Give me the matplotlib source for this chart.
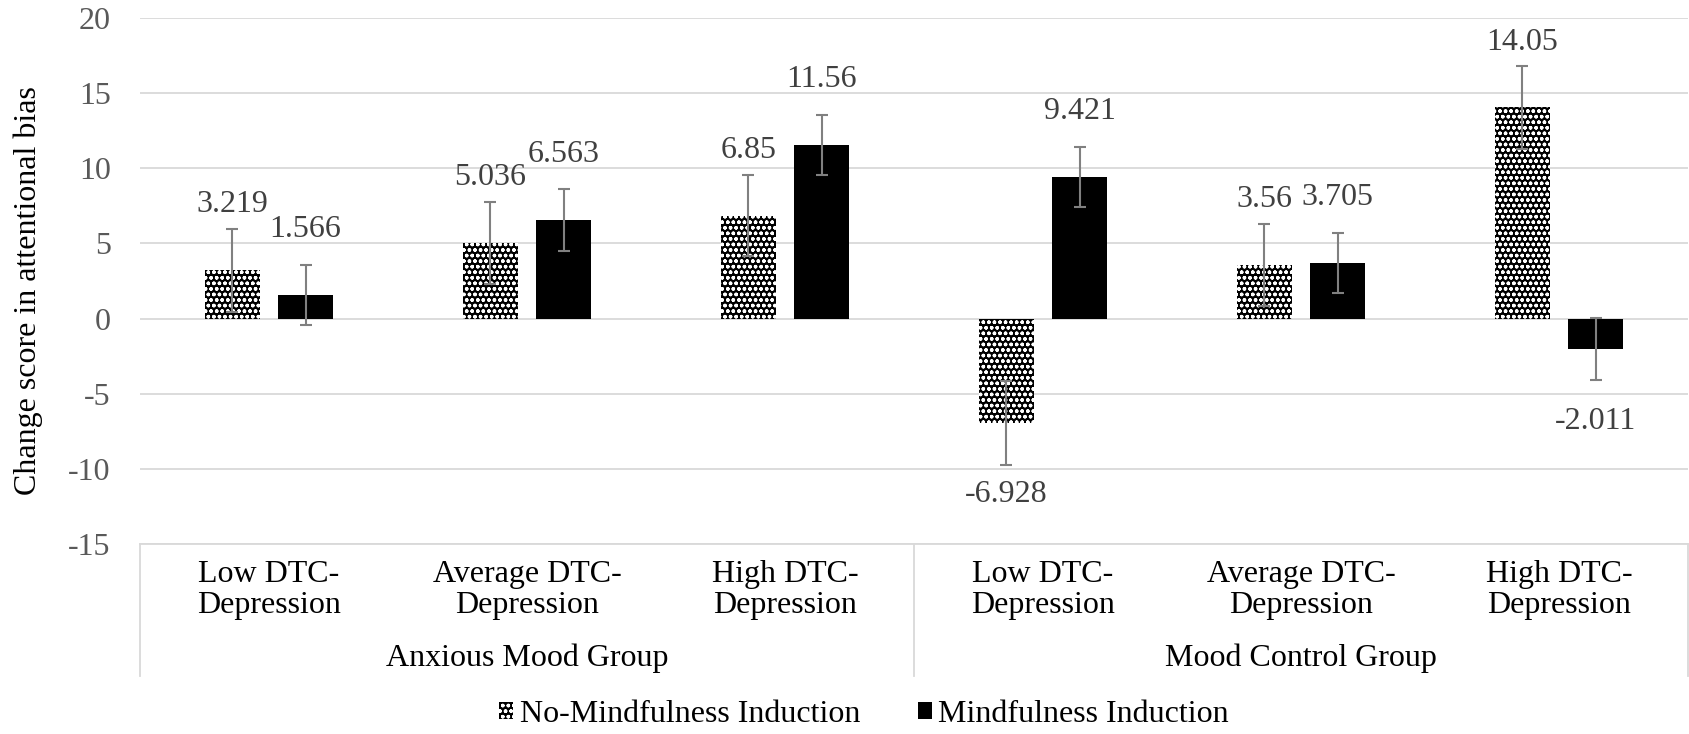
import numpy as np
import matplotlib
import matplotlib.pyplot as plt
from matplotlib.transforms import blended_transform_factory
matplotlib.use('agg')

groups = ['Anxious Mood Group', 'Mood Control Group']
levels = ['Low DTC-\nDepression', 'Average DTC-\nDepression', 'High DTC-\nDepression']
series = ['No-Mindfulness Induction', 'Mindfulness Induction']
no_mind = [3.219, 5.036, 6.85, -6.928, 3.56, 14.05]
mind = [1.566, 6.563, 11.56, 9.421, 3.705, -2.011]
no_mind_err = [2.76, 2.75, 2.71, 2.79, 2.73, 2.74]
mind_err = [2.02, 2.07, 2.0, 2.0, 2.0, 2.08]
yticks = [-15, -10, -5, 0, 5, 10, 15, 20]

plt.rcParams['font.family'] = ['Liberation Serif', 'DejaVu Serif']
plt.rcParams['axes.unicode_minus'] = False
plt.rcParams['hatch.color'] = 'white'
plt.rcParams['hatch.linewidth'] = 1.0

fig = plt.figure(figsize=(16.9, 7.34), dpi=100)
ax = fig.add_axes([140 / 1690, 1 - 544 / 734, 1548 / 1690, 526 / 734])

x = np.arange(len(no_mind))
w = 0.215
off = 0.142
b1 = ax.bar(x - off, no_mind, w, color='black', hatch='ooo', linewidth=0,
            label=series[0], zorder=2)
b2 = ax.bar(x + off, mind, w, color='black', linewidth=0,
            label=series[1], zorder=2)
err_kw = dict(fmt='none', ecolor='#808080', elinewidth=1.5, capsize=4.5,
              capthick=1.5, zorder=3)
ax.errorbar(x - off, no_mind, yerr=no_mind_err, **err_kw)
ax.errorbar(x + off, mind, yerr=mind_err, **err_kw)

# value labels
for xs, vals in ((x - off, no_mind), (x + off, mind)):
    for xi, v in zip(xs, vals):
        dy = 47 if v >= 0 else -52
        ax.annotate(f'{v:g}', (xi, v), xytext=(0, dy), textcoords='offset points',
                    ha='center', va='center', fontsize=23, color='#404040')

ax.set_ylim(-15, 20)
ax.set_xlim(-0.5, len(no_mind) - 0.5)
ax.set_yticks(yticks)
ax.tick_params(axis='y', length=0, pad=21, labelsize=23, labelcolor='#595959')
ax.set_xticks([])
ax.grid(axis='y', color='#d9d9d9', linewidth=1.3, zorder=0)
ax.set_axisbelow(True)
for s in ('left', 'right', 'top'):
    ax.spines[s].set_visible(False)
ax.spines['bottom'].set_color('#d9d9d9')
ax.spines['bottom'].set_linewidth(1.3)
ax.set_ylabel('Change score in attentional bias', fontsize=23, color='black')
ax.yaxis.set_label_coords(-0.0627, 0.481)

# two-level category axis
tr = blended_transform_factory(ax.transData, fig.transFigure)
for i in range(len(no_mind)):
    ax.text(i, 1 - 590 / 734, levels[i % 3], transform=tr, ha='center', va='center',
            fontsize=23, linespacing=1.1, color='black', clip_on=False)
for g, name in enumerate(groups):
    ax.text(g * 3 + 1, 1 - 658 / 734, name, transform=tr, ha='center', va='center',
            fontsize=23, color='black', clip_on=False)
for xb in (-0.5, 2.5, 5.5):
    ax.plot([xb, xb], [1 - 544 / 734, 1 - 676 / 734], transform=tr, color='#d9d9d9',
            linewidth=1.3, clip_on=False)

fig.legend(handles=[b1, b2], labels=series, loc='center', ncol=2,
           bbox_to_anchor=(864 / 1690, 1 - 714 / 734), frameon=False, fontsize=23,
           handlelength=0.45, handleheight=0.45, handletextpad=0.2, columnspacing=1.8)

fig.savefig('out.png', dpi=100)
plt.close(fig)
